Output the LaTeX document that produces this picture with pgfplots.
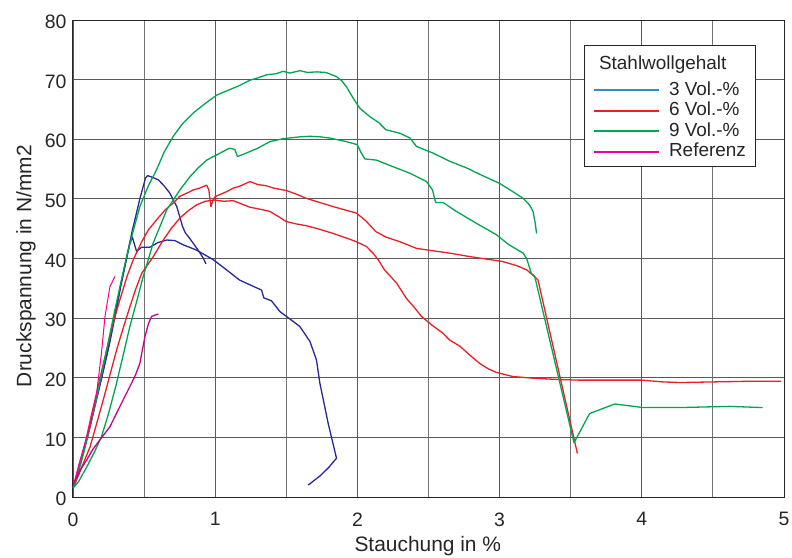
\documentclass[border=0pt]{standalone}
\usepackage{fontspec}
\setmainfont{Liberation Sans}
\usepackage{pgfplots}
\pgfplotsset{compat=1.18}
\definecolor{cnavy}{RGB}{40,40,150}
\definecolor{clblue}{RGB}{50,140,200}
\definecolor{cred}{RGB}{235,30,40}
\definecolor{cgreen}{RGB}{0,165,80}
\definecolor{cpink}{RGB}{240,0,150}
\definecolor{cmag}{RGB}{200,0,135}
\begin{document}
\begin{tikzpicture}
\begin{axis}[name=ax, scale only axis, width=711bp, height=477bp,
  xmin=0, xmax=5, ymin=0, ymax=80,
  xtick={0,1,2,3,4,5}, minor xtick={0.5,1.5,2.5,3.5,4.5},
  ytick={0,10,20,30,40,50,60,70,80},
  grid=both,
  major grid style={black!65, line width=0.9bp},
  minor grid style={black!55, line width=0.9bp},
  major tick length=0pt, minor tick length=0pt,
  axis line style={black!85, line width=1bp},
  /pgf/number format/assume math mode=true,
  ticklabel style={font=\fontsize{19.5}{24}\selectfont, text=black!85},
  xticklabel style={yshift=-12bp},
  yticklabel style={xshift=-3bp, yshift=-2bp},
  every axis x label/.style={at={(axis description cs:0.499,-0.114)}, anchor=base},
  every axis y label/.style={at={(axis description cs:-0.066,0.484)}, rotate=90, anchor=center},
  label style={font=\fontsize{21}{25}\selectfont, text=black!85},
  xlabel={Stauchung in \%},
  ylabel={Druckspannung in N/mm2},
  legend style={at={(axis description cs:0.961,0.948)}, anchor=north east,
    draw=black!85, line width=0.8bp, fill=white,
    font=\fontsize{19}{21}\selectfont, text=black!85, inner xsep=8.5bp, inner ysep=4bp, row sep=0bp,
    nodes={text height=13.3bp, text depth=4.2bp, inner sep=1.5bp},
    /tikz/row 1/.style={nodes={text height=18.3bp, text depth=9.7bp}},
    /tikz/every odd column/.append style={column sep=7.5bp}},
  legend cell align=left,
  legend image code/.code={\draw[#1, line width=2bp] (0bp,0bp) -- (65bp,0bp);},
  every axis plot/.append style={line width=1.3bp, line join=round},
]
\addlegendimage{empty legend}
\addlegendentry{\hspace*{-70bp}Stahlwollgehalt}
\addlegendimage{clblue}
\addlegendentry{3 Vol.-\%}
\addlegendimage{cred}
\addlegendentry{6 Vol.-\%}
\addlegendimage{cgreen}
\addlegendentry{9 Vol.-\%}
\addlegendimage{cpink}
\addlegendentry{Referenz}

% 3 Vol.-% curve A
\addplot[cnavy, forget plot] coordinates {
(0,1.5) (0.02,3) (0.04,5) (0.07,7.5) (0.10,10) (0.15,15) (0.20,20) (0.25,25.2) (0.29,30) (0.33,35) (0.377,40.2) (0.42,45) (0.47,50) (0.51,53.5) (0.525,53.9) (0.56,53.6) (0.60,53.2) (0.64,52.2) (0.68,51) (0.73,48.7) (0.77,45.4) (0.79,44.3) (0.82,43.4) (0.88,41.4) (0.915,40.1) (0.935,39.1)};
% 3 Vol.-% curve B
\addplot[cnavy, forget plot] coordinates {
(0,1.5) (0.025,3.2) (0.045,5.2) (0.075,7.8) (0.105,10.3) (0.155,15.3) (0.205,20.3) (0.255,25.5) (0.295,30.2) (0.335,35.2) (0.38,40.3) (0.40,42.5) (0.417,43.6) (0.447,41.2) (0.483,41.9) (0.54,41.9) (0.60,42.7) (0.66,43.1) (0.717,43.0) (0.775,42.3) (0.87,41.4) (0.986,39.8) (1.08,38.1) (1.17,36.4) (1.197,36.1) (1.326,34.7) (1.342,33.4) (1.396,32.9) (1.455,31.1) (1.50,30.3) (1.595,28.6) (1.666,26.1) (1.712,23.0) (1.736,19.1) (1.794,12.4) (1.853,6.5) (1.80,5.0) (1.74,3.6) (1.654,2.0)};
% 6 Vol.-% upper
\addplot[cred, forget plot] coordinates {
(0,1.5) (0.026,3.4) (0.06,6.5) (0.096,10.1) (0.13,13.8) (0.166,17.4) (0.2,21) (0.237,24.7) (0.28,29) (0.33,33.1) (0.38,37) (0.424,39.8) (0.483,42.8) (0.53,44.8) (0.588,46.5) (0.65,48.2) (0.705,49.3) (0.75,50.4) (0.822,51.2) (0.845,51.5) (0.89,51.8) (0.94,52.3) (0.955,51.5) (0.97,48.7) (0.985,49.8) (1.0,50.4) (1.08,51.2) (1.127,51.8) (1.17,52.1) (1.244,52.9) (1.30,52.4) (1.36,52.2) (1.41,51.8) (1.50,51.4) (1.57,50.8) (1.64,50.1) (1.72,49.5) (1.83,48.7) (1.95,47.9) (1.994,47.6) (2.06,46.3) (2.13,44.5) (2.20,43.6) (2.30,42.8) (2.415,41.7) (2.53,41.3) (2.65,40.9) (2.77,40.4) (2.88,40.0) (3.02,39.5) (3.12,38.8) (3.19,38.1) (3.235,37.2) (3.27,36.4) (3.547,7.3)};
% 6 Vol.-% lower
\addplot[cred, forget plot] coordinates {
(0,1.5) (0.026,2.9) (0.07,5.5) (0.12,8.4) (0.165,12.2) (0.213,16.3) (0.26,20.5) (0.307,24.7) (0.355,28.5) (0.40,31.9) (0.44,34.8) (0.483,37.5) (0.564,40.3) (0.635,43.1) (0.69,45) (0.752,46.8) (0.81,48) (0.87,49.0) (0.93,49.6) (0.998,49.8) (1.06,49.6) (1.127,49.7) (1.18,49.2) (1.244,48.6) (1.31,48.3) (1.384,47.9) (1.44,47.1) (1.50,46.2) (1.57,45.8) (1.64,45.5) (1.72,45.0) (1.83,44.2) (1.95,43.2) (1.994,42.8) (2.064,42.0) (2.11,40.9) (2.146,39.8) (2.19,38.1) (2.275,35.9) (2.345,33.3) (2.40,31.8) (2.45,30.3) (2.52,28.9) (2.60,27.5) (2.65,26.3) (2.72,25.3) (2.80,23.6) (2.86,22.4) (2.92,21.5) (2.977,20.9) (3.094,20.2) (3.25,19.9) (3.42,19.7) (3.56,19.6) (3.75,19.6) (4.0,19.6) (4.15,19.3) (4.27,19.2) (4.5,19.3) (4.73,19.4) (4.98,19.4)};
% 9 Vol.-% upper
\addplot[cgreen, forget plot] coordinates {
(0,1.5) (0.037,4.0) (0.08,7.8) (0.12,11.8) (0.165,16.5) (0.213,21.9) (0.255,26.8) (0.295,31.4) (0.337,36) (0.377,40.3) (0.42,44.3) (0.47,48.7) (0.53,52.2) (0.588,54.9) (0.64,57.8) (0.705,60.5) (0.77,62.6) (0.845,64.4) (0.93,66) (1.01,67.4) (1.10,68.3) (1.17,69.0) (1.244,69.9) (1.30,70.3) (1.36,70.8) (1.43,71.0) (1.478,71.4) (1.525,71.1) (1.595,71.5) (1.65,71.2) (1.713,71.3) (1.78,71.2) (1.853,70.5) (1.89,69.8) (1.923,68.8) (1.97,66.9) (2.017,65.2) (2.087,63.8) (2.15,62.8) (2.20,61.6) (2.30,61.0) (2.37,60.2) (2.415,58.8) (2.53,57.7) (2.65,56.3) (2.767,55.2) (2.88,53.9) (3.0,52.6) (3.094,51.2) (3.165,50.1) (3.21,49.0) (3.235,47.9) (3.25,46) (3.26,44.2)};
% 9 Vol.-% lower
\addplot[cgreen, forget plot] coordinates {
(0,1.5) (0.04,2.6) (0.096,5) (0.15,7.5) (0.20,10.1) (0.25,14) (0.30,18.5) (0.35,23.5) (0.40,28.6) (0.45,33) (0.494,37.0) (0.564,42.6) (0.66,48.2) (0.705,49.8) (0.752,51.5) (0.822,53.7) (0.88,55.2) (0.94,56.5) (1.02,57.5) (1.10,58.5) (1.138,58.3) (1.157,57.1) (1.22,57.7) (1.30,58.5) (1.384,59.6) (1.478,60.1) (1.595,60.4) (1.666,60.5) (1.74,60.4) (1.806,60.2) (1.923,59.6) (1.998,59.1) (2.025,57.8) (2.052,56.7) (2.134,56.5) (2.25,55.4) (2.37,54.3) (2.486,52.9) (2.528,51.5) (2.55,49.4) (2.602,49.4) (2.696,47.9) (2.837,45.9) (2.977,44.0) (3.06,42.4) (3.165,40.9) (3.19,40.0) (3.223,37.5) (3.247,37.0) (3.523,9.1) (3.633,14.0) (3.81,15.6) (4.01,15.0) (4.265,15.0) (4.617,15.2) (4.85,15.0)};
% Referenz 1
\addplot[cpink, forget plot, line width=1bp] coordinates {
(0,1.7) (0.05,6.2) (0.09,9.5) (0.12,11.8) (0.166,17.4) (0.2,24.1) (0.225,30.3) (0.26,35.3) (0.295,37.0)};
% Referenz 2
\addplot[cmag, forget plot] coordinates {
(0,2.0) (0.05,4.5) (0.096,6.2) (0.14,8) (0.19,9.6) (0.26,11.8) (0.33,15.2) (0.412,19.1) (0.44,20.5) (0.47,22.4) (0.506,26.9) (0.53,29) (0.553,30.3) (0.6,30.7)};
\end{axis}
\pgfresetboundingbox
\path[use as bounding box] ([xshift=-73bp,yshift=-60bp]ax.south west) rectangle ([xshift=8bp,yshift=20bp]ax.north east);
\end{tikzpicture}
\end{document}
